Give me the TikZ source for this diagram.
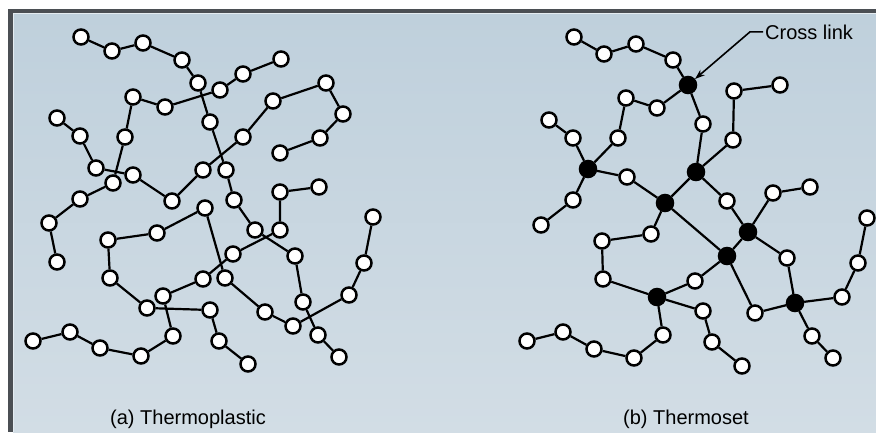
\documentclass[tikz,border=0pt]{standalone}
\usepackage{fontspec}
\setmainfont{Liberation Sans}
\usetikzlibrary{arrows.meta}
\pgfdeclarelayer{back}
\pgfdeclarelayer{edges}
\pgfsetlayers{back,edges,main}
\definecolor{bgtop}{HTML}{BFD0DC}
\definecolor{bgbot}{HTML}{D2DDE5}
\definecolor{framegray}{HTML}{4B4F54}
\tikzset{
  mono/.style={circle, draw=black, fill=white, line width=2.5pt, minimum size=15pt, inner sep=0pt},
  xlink/.style={circle, fill=black, draw=black, line width=1pt, minimum size=17.5pt, inner sep=0pt},
  bond/.style={line width=2.2pt, black},
  lbl/.style={font=\fontsize{20}{22}\selectfont, inner sep=0pt, anchor=base west},
}
\begin{document}
\begin{tikzpicture}[x=1pt,y=-1pt]
\useasboundingbox (0,0) rectangle (876,432);
\begin{pgfonlayer}{back}
\fill[white] (0,0) rectangle (876,432);
\fill[framegray] (8,9) rectangle (876,432);
\shade[top color=bgtop, bottom color=bgbot] (13,13) rectangle (876,432);
\draw[white!60!bgtop, line width=1.2pt] (13.6,432) -- (13.6,13.6) -- (876,13.6);
\end{pgfonlayer}

% ---------- left panel ----------
\node[mono] (a1) at (81,37) {};
\node[mono] (a2) at (112,51) {};
\node[mono] (a3) at (143,43) {};
\node[mono] (a4) at (182,60) {};
\node[mono] (a5) at (198,83) {};
\node[mono] (a6) at (210,122) {};
\node[mono] (a7) at (226,170) {};
\node[mono] (a8) at (234,200) {};
\node[mono] (a9) at (255,230) {};
\node[mono] (a10) at (295,256) {};
\node[mono] (a11) at (303,302) {};
\node[mono] (a12) at (318,335) {};
\node[mono] (a13) at (339,357) {};

\node[mono] (b1) at (57,262) {};
\node[mono] (b2) at (49,223) {};
\node[mono] (b3) at (80,199) {};
\node[mono] (b4) at (113,183) {};
\node[mono] (b5) at (125,137) {};
\node[mono] (b6) at (133,97) {};
\node[mono] (b7) at (165,107) {};
\node[mono] (b8) at (220,90) {};
\node[mono] (b9) at (243,74) {};
\node[mono] (b10) at (281,59) {};

\node[mono] (c1) at (57,118) {};
\node[mono] (c2) at (80,136) {};
\node[mono] (c3) at (96,168) {};
\node[mono] (c4) at (133,175) {};
\node[mono] (c5) at (172,201) {};
\node[mono] (c6) at (203,170) {};
\node[mono] (c7) at (243,137) {};
\node[mono] (c8) at (273,101) {};
\node[mono] (c9) at (326,83) {};
\node[mono] (c10) at (343,114) {};
\node[mono] (c11) at (320,138) {};
\node[mono] (c12) at (280,153) {};

\node[mono] (d1) at (33,341) {};
\node[mono] (d2) at (70,332) {};
\node[mono] (d3) at (100,348) {};
\node[mono] (d4) at (141,356) {};
\node[mono] (d5) at (173,336) {};
\node[mono] (d6) at (163,296) {};
\node[mono] (d7) at (203,279) {};
\node[mono] (d8) at (233,254) {};
\node[mono] (d9) at (280,230) {};
\node[mono] (d10) at (280,192) {};
\node[mono] (d11) at (319,187) {};

\node[mono] (e1) at (248,364) {};
\node[mono] (e2) at (219,341) {};
\node[mono] (e3) at (210,310) {};
\node[mono] (e4) at (147,308) {};
\node[mono] (e5) at (110,278) {};
\node[mono] (e6) at (108,240) {};
\node[mono] (e7) at (157,233) {};
\node[mono] (e8) at (205,208) {};
\node[mono] (e9) at (225,278) {};
\node[mono] (e10) at (265,312) {};
\node[mono] (e11) at (293,326) {};
\node[mono] (e12) at (349,295) {};
\node[mono] (e13) at (364,263) {};
\node[mono] (e14) at (373,217) {};

% ---------- right panel ----------
\node[mono] (r1) at (574,37) {};
\node[mono] (r2) at (604,54) {};
\node[mono] (r3) at (636,44) {};
\node[mono] (r4) at (673,60) {};
\node[xlink] (x1) at (688,85) {};
\node[mono] (r5) at (657,108) {};
\node[mono] (r6) at (626,98) {};
\node[mono] (r7) at (618,138) {};
\node[xlink] (x2) at (588,169) {};
\node[mono] (r8) at (573,138) {};
\node[mono] (r9) at (549,120) {};
\node[mono] (r10) at (573,200) {};
\node[mono] (r11) at (541,225) {};
\node[mono] (r12) at (627,177) {};
\node[xlink] (x3) at (665,203) {};
\node[mono] (r13) at (703,124) {};
\node[xlink] (x4) at (696,172) {};
\node[mono] (r14) at (733,140) {};
\node[mono] (r15) at (734,91) {};
\node[mono] (r16) at (780,85) {};
\node[mono] (r17) at (727,201) {};
\node[xlink] (x5) at (748,232) {};
\node[mono] (r18) at (773,193) {};
\node[mono] (r19) at (810,187) {};
\node[mono] (r20) at (651,234) {};
\node[mono] (r21) at (602,241) {};
\node[mono] (r22) at (603,279) {};
\node[xlink] (x6) at (657,297) {};
\node[xlink] (x7) at (727,256) {};
\node[mono] (r23) at (695,281) {};
\node[mono] (r24) at (755,313) {};
\node[xlink] (x8) at (795,303) {};
\node[mono] (r25) at (787,258) {};
\node[mono] (r26) at (842,297) {};
\node[mono] (r27) at (858,263) {};
\node[mono] (r28) at (867,218) {};
\node[mono] (r29) at (812,336) {};
\node[mono] (r30) at (833,358) {};
\node[mono] (r31) at (703,311) {};
\node[mono] (r32) at (712,342) {};
\node[mono] (r33) at (742,366) {};
\node[mono] (r34) at (663,335) {};
\node[mono] (r35) at (634,358) {};
\node[mono] (r36) at (594,349) {};
\node[mono] (r37) at (563,332) {};
\node[mono] (r38) at (527,341) {};

% ---------- labels ----------
\node[lbl] (ta) at (110,424) {(a) Thermoplastic};
\node[lbl] (tb) at (623,424) {(b) Thermoset};
\node[lbl] (cl) at (765,39) {Cross link};

\begin{pgfonlayer}{edges}
\draw[bond] (a1)--(a2)--(a3)--(a4)--(a5)--(a6)--(a7)--(a8)--(a9)--(a10)--(a11)--(a12)--(a13);
\draw[bond] (b1)--(b2)--(b3)--(b4)--(b5)--(b6)--(b7)--(b8)--(b9)--(b10);
\draw[bond] (c1)--(c2)--(c3)--(c4)--(c5)--(c6)--(c7)--(c8)--(c9)--(c10)--(c11)--(c12);
\draw[bond] (d1)--(d2)--(d3)--(d4)--(d5)--(d6)--(d7)--(d8)--(d9)--(d10)--(d11);
\draw[bond] (e1)--(e2)--(e3)--(e4)--(e5)--(e6)--(e7)--(e8)--(e9)--(e10)--(e11)--(e12)--(e13)--(e14);

\draw[bond] (r1)--(r2)--(r3)--(r4)--(x1)--(r5)--(r6)--(r7)--(x2)--(r8)--(r9);
\draw[bond] (x2)--(r10)--(r11);
\draw[bond] (x2)--(r12)--(x3)--(x4)--(r13)--(x1);
\draw[bond] (x4)--(r14)--(r15)--(r16);
\draw[bond] (x4)--(r17)--(x5)--(r18)--(r19);
\draw[bond] (x5)--(x7)--(x3)--(r20)--(r21)--(r22)--(x6)--(r23)--(x7)--(r24)--(x8)--(r25)--(x5);
\draw[bond] (x8)--(r26)--(r27)--(r28);
\draw[bond] (x8)--(r29)--(r30);
\draw[bond] (x6)--(r31)--(r32)--(r33);
\draw[bond] (x6)--(r34)--(r35)--(r36)--(r37)--(r38);
\end{pgfonlayer}

\draw[line width=1.6pt, -{Stealth[length=10pt,width=7pt]}] ([xshift=-2pt]cl.west) -- ++(-13,0) -- (x1);
\end{tikzpicture}
\end{document}
